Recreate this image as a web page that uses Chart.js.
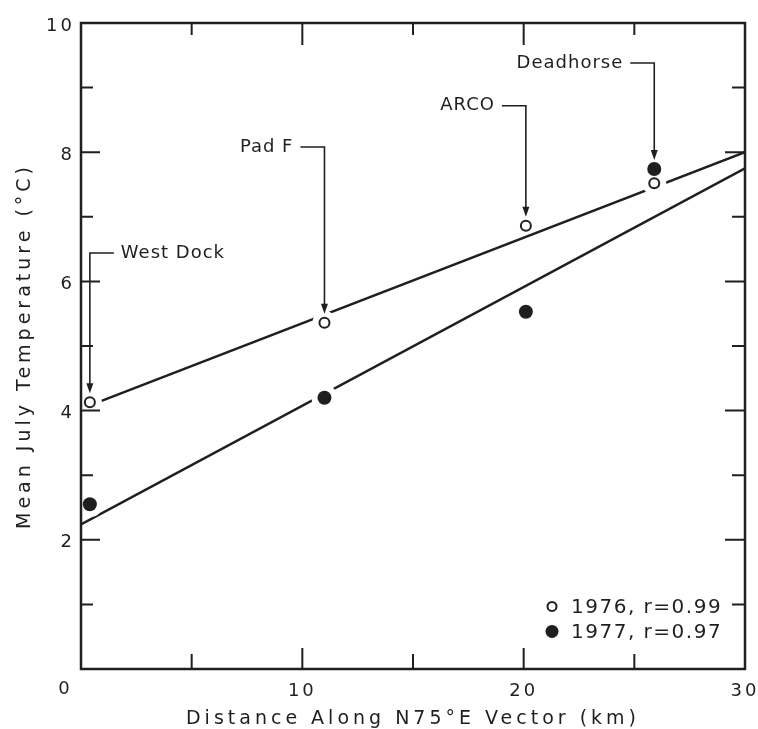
<!DOCTYPE html>
<html>
<head>
<meta charset="utf-8">
<script src="https://cdn.jsdelivr.net/npm/chart.js@4"></script>
<style>
  html, body { margin: 0; padding: 0; background: #fff; }
  #wrap { width: 758px; height: 729px; }
</style>
</head>
<body>
<div id="wrap"><canvas id="chart" width="758" height="729"></canvas></div>
<script>
// --- Data ---
const sites = ['West Dock', 'Pad F', 'ARCO', 'Deadhorse'];
const distanceKm = [0.4, 11.0, 20.1, 25.9];
const temp1976 = [4.13, 5.36, 6.86, 7.52];
const temp1977 = [2.55, 4.2, 5.53, 7.74];

// regression lines (end points as drawn)
const fitX1976 = [0.4, 30];
const fitY1976 = [4.08, 8.0];
const fitX1977 = [0, 30];
const fitY1977 = [2.24, 7.75];

// site labels: height of the label (°C) and side of the arrow it sits on
const labelTemp = [6.44, 8.08, 8.72, 9.38];
const labelSide = ['right', 'left', 'left', 'left'];

const legendLabels = ['1976, r=0.99', '1977, r=0.97'];
const xTickValues = [0, 10, 20, 30];
const yTickValues = [0, 2, 4, 6, 8, 10];
const xMinorTicks = [5, 10, 15, 20, 25];
const yMinorTicks = [1, 2, 3, 4, 5, 6, 7, 8, 9];

// white breaks cut into the fit lines round each marker (px)
const gap1976 = [12, 12, 8, 12];
const gap1977 = [13, 13, 13, 13];

const INK = '#1f1f1f';
const FONT = '"DejaVu Sans", sans-serif';

const pts = (xs, ys) => xs.map((x, i) => ({ x, y: ys[i] }));

// --- Frame, inner ticks, site arrows and legend ---
const annotate = {
    id: 'annotate',
    afterUpdate(chart) {
        // axis titles are lettered wider than the tick numbers
        Object.values(chart.scales).forEach(s => {
            if (s._spaced) return;
            const drawTitle = s.drawTitle;
            s.drawTitle = function () {
                const c = this.ctx, prev = c.letterSpacing;
                c.letterSpacing = '4px';
                drawTitle.call(this);
                c.letterSpacing = prev;
            };
            s._spaced = true;
        });
    },
    beforeDraw(chart) {
        chart.ctx.letterSpacing = '3px';
    },
    afterDatasetsDraw(chart) {
        const { ctx, chartArea: a, scales: { x, y } } = chart;
        ctx.save();
        ctx.strokeStyle = INK;
        ctx.fillStyle = INK;
        ctx.lineCap = 'butt';

        // frame
        ctx.lineWidth = 2.5;
        ctx.strokeRect(a.left, a.top, a.right - a.left, a.bottom - a.top);

        // inner ticks
        ctx.lineWidth = 2;
        ctx.beginPath();
        yMinorTicks.forEach(v => {
            const py = y.getPixelForValue(v);
            const major = v % 2 === 0;
            ctx.moveTo(a.left, py); ctx.lineTo(a.left + (major ? 19 : 12), py);
            ctx.moveTo(a.right, py); ctx.lineTo(a.right - (major ? 20 : 13), py);
        });
        xMinorTicks.forEach(v => {
            const px = x.getPixelForValue(v);
            const major = v % 10 === 0;
            ctx.moveTo(px, a.bottom); ctx.lineTo(px, a.bottom - (major ? 21 : 15));
            ctx.moveTo(px, a.top); ctx.lineTo(px, a.top + (major ? 22 : 12));
        });
        ctx.stroke();

        // shared corner "0"
        ctx.font = '18px ' + FONT;
        ctx.letterSpacing = '0px';
        ctx.textAlign = 'center';
        ctx.textBaseline = 'middle';
        ctx.fillText('0', a.left - 17, a.bottom + 20);

        // site labels with arrows
        ctx.font = '18px ' + FONT;
        ctx.letterSpacing = '1px';
        ctx.lineWidth = 1.6;
        sites.forEach((name, i) => {
            const px = x.getPixelForValue(distanceKm[i]);
            const tip = y.getPixelForValue(Math.max(temp1976[i], temp1977[i])) - 9;
            const ly = y.getPixelForValue(labelTemp[i]);
            const dir = labelSide[i] === 'right' ? 1 : -1;
            const segEnd = px + dir * 24;
            ctx.beginPath();
            ctx.moveTo(segEnd, ly);
            ctx.lineTo(px, ly);
            ctx.lineTo(px, tip - 8);
            ctx.stroke();
            ctx.beginPath();
            ctx.moveTo(px - 3.5, tip - 10);
            ctx.lineTo(px + 3.5, tip - 10);
            ctx.lineTo(px, tip);
            ctx.closePath();
            ctx.fill();
            ctx.textAlign = dir > 0 ? 'left' : 'right';
            ctx.textBaseline = 'middle';
            ctx.fillText(name, segEnd + dir * 7, ly);
        });

        // legend
        ctx.font = '20px ' + FONT;
        ctx.letterSpacing = '1.5px';
        ctx.textAlign = 'left';
        const lx = a.right - 193;
        const ly0 = y.getPixelForValue(1) + 2;
        legendLabels.forEach((t, i) => {
            const cy = ly0 + i * 25;
            ctx.beginPath();
            if (i === 0) {
                ctx.lineWidth = 2;
                ctx.fillStyle = '#fff';
                ctx.arc(lx, cy, 4.5, 0, Math.PI * 2);
                ctx.fill(); ctx.stroke();
            } else {
                ctx.fillStyle = INK;
                ctx.arc(lx, cy, 6.5, 0, Math.PI * 2);
                ctx.fill();
            }
            ctx.fillStyle = INK;
            ctx.fillText(t, lx + 19, cy + 1);
        });
        ctx.restore();
    }
};

new Chart(document.getElementById('chart'), {
    type: 'scatter',
    data: {
        datasets: [
            { data: pts(fitX1977, fitY1977), showLine: true, borderColor: INK, borderWidth: 2.5, pointRadius: 0, order: 5 },
            { data: pts(fitX1976, fitY1976), showLine: true, borderColor: INK, borderWidth: 2.5, pointRadius: 0, order: 5 },
            { data: pts(distanceKm, temp1977), pointRadius: gap1977, pointBackgroundColor: '#fff', pointBorderWidth: 0, order: 4 },
            { data: pts(distanceKm, temp1976), pointRadius: gap1976, pointBackgroundColor: '#fff', pointBorderWidth: 0, order: 3 },
            { label: '1976', data: pts(distanceKm, temp1976), pointRadius: 5, pointBackgroundColor: '#fff', pointBorderColor: INK, pointBorderWidth: 2, order: 2 },
            { label: '1977', data: pts(distanceKm, temp1977), pointRadius: 7, pointBackgroundColor: INK, pointBorderWidth: 0, order: 1 }
        ]
    },
    options: {
        responsive: false,
        animation: false,
        events: [],
        layout: { padding: { left: 0, right: 13, top: 23, bottom: 0 } },
        plugins: { legend: { display: false }, tooltip: { enabled: false } },
        scales: {
            x: {
                type: 'linear', min: 0, max: 30,
                afterFit: s => { s.height = 60; s.paddingLeft = 0; s.paddingRight = 0; },
                afterBuildTicks: s => { s.ticks = xTickValues.map(value => ({ value })); },
                grid: { display: false, drawTicks: false },
                border: { display: false },
                ticks: { padding: 12, color: INK, font: { family: FONT, size: 18 }, callback: v => v === 0 ? '' : v, maxRotation: 0 },
                title: { display: true, text: 'Distance Along N75°E Vector (km)', color: INK, font: { family: FONT, size: 19, lineHeight: 1 }, padding: { top: 0, bottom: 0 } }
            },
            y: {
                type: 'linear', min: 0, max: 10,
                afterFit: s => { s.width = 81; s.paddingTop = 0; s.paddingBottom = 0; },
                afterBuildTicks: s => { s.ticks = yTickValues.map(value => ({ value })); },
                grid: { display: false, drawTicks: false },
                border: { display: false },
                ticks: { padding: 6, labelOffset: 3, color: INK, font: { family: FONT, size: 18 }, callback: v => v === 0 ? '' : v },
                title: { display: true, text: 'Mean July Temperature (°C)', color: INK, font: { family: FONT, size: 19, lineHeight: 1 }, padding: { top: 16, bottom: 0 } }
            }
        }
    },
    plugins: [annotate]
});
</script>
</body>
</html>
